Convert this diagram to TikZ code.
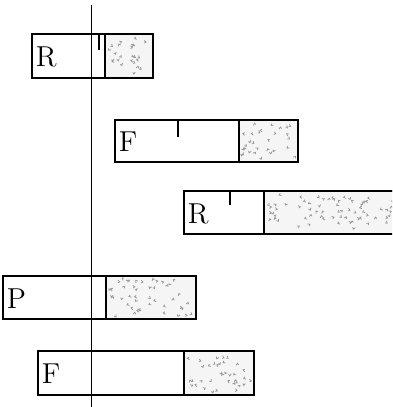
\documentclass[tikz,border=0pt]{standalone}
\usepackage{tikz}

% stippled part of a bar: #1,#2 top left, #3,#4 bottom right
\newcommand{\speckle}[4]{%
  \fill[gray!8] (#1,#2) rectangle (#3,#4);
  \pgfmathtruncatemacro{\nspk}{(#3-#1)*(#4-#2)/85}
  \foreach \k in {1,...,\nspk}{
    \pgfmathsetmacro{\px}{#1+4+rnd*(#3-#1-8)}
    \pgfmathsetmacro{\py}{#2+4+rnd*(#4-#2-8)}
    \pgfmathsetmacro{\pa}{rnd*360}
    \draw[gray!80,line width=0.4pt] (\px,\py) -- ++(\pa:2.5) -- ++(\pa+110:2);
  }
  \draw[densely dotted,line width=1.2pt,gray!60!black] (#1,#2) rectangle (#3,#4);
}
% one bar: name, label, left, split, right, top, bottom
\newcommand{\timebar}[7]{%
  \speckle{#4}{#6}{#5}{#7}
  \draw (#3,#6) rectangle (#5,#7);
  \draw (#4,#6) -- (#4,#7);
  \node[lbl] (#1) at ({#3+3},{(#6+#7)/2+1}) {#2};
}

\begin{document}
\begin{tikzpicture}[x=0.5pt,y=-0.5pt,line width=0.9pt,
  lbl/.style={anchor=west,inner sep=0pt,font=\Large}]
	\clip (0,0) rectangle (392,407);
	\pgfmathsetseed{11}

	\timebar{r1}{R}{32}{105}{153}{34}{78}
	\timebar{f1}{F}{115}{239}{298}{120}{162}
	\timebar{r2}{R}{184}{264}{400}{191}{234}
	\timebar{p1}{P}{3}{106}{196}{276}{319}
	\timebar{f2}{F}{38}{184}{254}{351}{395}

	% marks on top edges
	\draw (99,34) -- (99,50);
	\draw (178,120) -- (178,137);
	\draw (230,191) -- (230,205);

	\draw (91.5,5) -- (91.5,407);
\end{tikzpicture}
\end{document}
